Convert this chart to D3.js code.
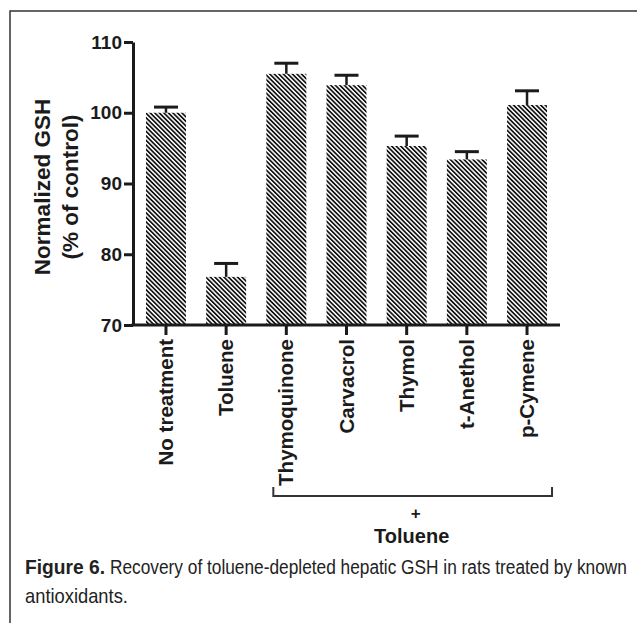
<!DOCTYPE html>
<html>
<head>
<meta charset="utf-8">
<script src="https://cdn.jsdelivr.net/npm/d3@7"></script>
<style>
  body { margin: 0; background: #fff; }
  svg { display: block; }
</style>
</head>
<body>
<svg id="chart"></svg>
<script>
const width = 637
const height = 625

// data
const categories = ["No treatment", "Toluene", "Thymoquinone", "Carvacrol", "Thymol", "t-Anethol", "p-Cymene"]
const means = [100, 76.8, 105.5, 103.9, 95.3, 93.4, 101.1]
const errors = [0.8, 1.9, 1.5, 1.4, 1.4, 1.1, 2.0]
const yTicks = [70, 80, 90, 100, 110]
const bracketGroup = ["Thymoquinone", "p-Cymene"]

const ink = "#1b1b1b"
const font = "'Liberation Sans', Arial, Helvetica, sans-serif"

const svg = d3.select("#chart")
  .attr("width", width)
  .attr("height", height)

// pattern for the hatched bars
const defs = svg.append("defs")
const pat = defs.append("pattern")
  .attr("id", "hatch")
  .attr("patternUnits", "userSpaceOnUse")
  .attr("width", 3.2)
  .attr("height", 3.2)
  .attr("patternTransform", "rotate(-45)")
pat.append("rect").attr("width", 3.2).attr("height", 3.2).attr("fill", "#fff")
pat.append("rect").attr("width", 1.7).attr("height", 3.2).attr("fill", "#111")

// frame lines (top + left)
svg.append("path")
  .attr("d", "M10,623 L10,11 L637,11")
  .attr("fill", "none")
  .attr("stroke", "#333")
  .attr("stroke-width", 1.5)

const x = d3.scaleBand()
  .domain(categories)
  .range([133, 560])
  .paddingInner(0.336)
  .paddingOuter(0.216)

const y = d3.scaleLinear()
  .domain([70, 110])
  .range([325, 42])

const plot = svg.append("g")

plot.selectAll("rect.bar")
  .data(categories)
  .join("rect")
  .attr("class", "bar")
  .attr("x", d => x(d))
  .attr("width", x.bandwidth())
  .attr("y", (d, i) => y(means[i]))
  .attr("height", (d, i) => y(70) - y(means[i]))
  .attr("fill", "url(#hatch)")

// error bars (upper only)
const err = plot.selectAll("g.err")
  .data(categories)
  .join("g")
  .attr("class", "err")
  .attr("stroke", ink)

err.append("line")
  .attr("x1", d => x(d) + x.bandwidth() / 2)
  .attr("x2", d => x(d) + x.bandwidth() / 2)
  .attr("y1", (d, i) => y(means[i]))
  .attr("y2", (d, i) => y(means[i] + errors[i]))
  .attr("stroke-width", 2.5)

err.append("line")
  .attr("x1", d => x(d) + x.bandwidth() / 2 - 12)
  .attr("x2", d => x(d) + x.bandwidth() / 2 + 12)
  .attr("y1", (d, i) => y(means[i] + errors[i]))
  .attr("y2", (d, i) => y(means[i] + errors[i]))
  .attr("stroke-width", 3)

// y axis
const yAxis = svg.append("g")
  .attr("transform", "translate(133,0)")
  .call(d3.axisLeft(y).tickValues(yTicks).tickSize(9).tickSizeOuter(0).tickPadding(2))
yAxis.select(".domain").attr("stroke", ink).attr("stroke-width", 3)
yAxis.selectAll(".tick line").attr("stroke", ink).attr("stroke-width", 3)
yAxis.selectAll(".tick text")
  .attr("fill", ink)
  .style("font", `bold 19px ${font}`)

// x axis
const xAxis = svg.append("g")
  .attr("transform", "translate(0,325)")
  .call(d3.axisBottom(x).tickSize(10).tickSizeOuter(0).tickFormat(""))
xAxis.select(".domain")
  .attr("d", "M131.5,0H560")
  .attr("stroke", ink).attr("stroke-width", 3)
xAxis.selectAll(".tick line").attr("stroke", ink).attr("stroke-width", 3)

// rotated category labels
svg.append("g")
  .selectAll("text")
  .data(categories)
  .join("text")
  .attr("transform", d => `translate(${x(d) + x.bandwidth() / 2 + 7},339) rotate(-90)`)
  .attr("text-anchor", "end")
  .attr("fill", ink)
  .style("font", `bold 20.5px ${font}`)
  .text(d => d)

// y axis title
const yTitle = svg.append("text")
  .attr("transform", "translate(0,187) rotate(-90)")
  .attr("text-anchor", "middle")
  .attr("fill", ink)
  .style("font", `bold 22.5px ${font}`)
yTitle.append("tspan").attr("x", 0).attr("y", 50).text("Normalized GSH")
yTitle.append("tspan").attr("x", 0).attr("y", 78).text("(% of control)")

// bracket under the treated groups
const bx0 = x(bracketGroup[0]) + x.bandwidth() / 2 - 13
const bx1 = x(bracketGroup[1]) + x.bandwidth() / 2 + 25
svg.append("path")
  .attr("d", `M${bx0},487 V496 H${bx1} V487`)
  .attr("fill", "none")
  .attr("stroke", "#333")
  .attr("stroke-width", 2)

const bmid = (bx0 + bx1) / 2
svg.append("text")
  .attr("x", bmid + 3)
  .attr("y", 519)
  .attr("text-anchor", "middle")
  .attr("fill", ink)
  .style("font", `bold 17px ${font}`)
  .text("+")
svg.append("text")
  .attr("x", bmid - 1)
  .attr("y", 543)
  .attr("text-anchor", "middle")
  .attr("fill", ink)
  .style("font", `bold 20px ${font}`)
  .text("Toluene")

// caption, squeezed horizontally to look like the condensed journal face
function squeezed(tx, ty, w, txt, weight) {
  const t = svg.append("text")
    .attr("fill", "#222")
    .style("font", `${weight} 20px ${font}`)
    .text(txt)
  const natural = t.node().getComputedTextLength()
  t.attr("transform", `translate(${tx},${ty}) scale(${w / natural},1)`)
}
squeezed(25, 574, 80, "Figure 6.", "bold")
squeezed(110, 574, 517, "Recovery of toluene-depleted hepatic GSH in rats treated by known", "normal")
squeezed(25, 603, 103, "antioxidants.", "normal")
</script>
</body>
</html>
